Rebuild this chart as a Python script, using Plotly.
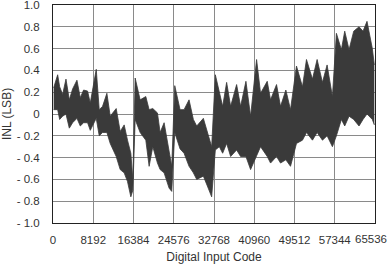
import plotly.graph_objects as go

# Envelope of the INL trace (code, upper, lower)
codes = [135, 948, 1354, 1963, 2640, 3317, 3994, 4874, 5551, 6228, 7041, 7582,
         8801, 9410, 10087, 10967, 11644, 12863, 13675, 14488, 15165, 15842, 16248,
         16722, 17738, 18889, 19566, 20311, 21259, 21800, 22613, 23628, 24170,
         24779, 25862, 26675, 27690, 28570, 29248, 30602, 31414, 32294,
         33039, 33851, 34528, 35340, 36153, 37372, 38184, 39267, 40215,
         41434, 42246, 43600, 44277, 45496, 46308, 47391, 48339,
         49558, 50776, 51589, 52807, 53755, 54838, 55786, 56869,
         57681, 58696, 59374, 60254, 61202, 62285, 63097, 63910, 64993, 65400]
inl_upper = [0.24, 0.36, 0.25, 0.18, 0.32, 0.13, 0.23, 0.31, 0.15, 0.22, 0.21, 0.10,
             0.41, 0.04, 0.07, 0.19, -0.02, 0.05, -0.16, -0.10, -0.24, -0.36, -0.60,
             0.33, 0.13, 0.16, 0.04, 0.05, 0.01, -0.17, -0.08, -0.36, -0.48,
             0.26, 0.04, 0.04, 0.13, -0.05, -0.11, -0.04, -0.17, -0.30,
             0.36, 0.19, 0.07, 0.29, 0.07, 0.27, 0.07, 0.30, -0.02,
             0.50, 0.19, 0.30, 0.13, 0.27, 0.07, 0.22, 0.04,
             0.44, 0.25, 0.50, 0.32, 0.50, 0.29, 0.45, 0.16,
             0.74, 0.59, 0.76, 0.59, 0.76, 0.80, 0.76, 0.85, 0.60, 0.45]
inl_lower = [0.04, 0.04, -0.05, -0.02, 0.00, -0.13, -0.08, -0.04, -0.11, -0.08, -0.08, -0.15,
             -0.04, -0.20, -0.17, -0.17, -0.27, -0.39, -0.51, -0.54, -0.62, -0.76, -0.70,
             -0.05, -0.17, -0.24, -0.48, -0.30, -0.45, -0.51, -0.54, -0.68, -0.71,
             -0.17, -0.32, -0.36, -0.48, -0.54, -0.60, -0.57, -0.66, -0.76,
             -0.33, -0.30, -0.36, -0.27, -0.39, -0.33, -0.39, -0.39, -0.51,
             -0.39, -0.30, -0.39, -0.45, -0.39, -0.45, -0.42, -0.48,
             -0.27, -0.24, -0.17, -0.24, -0.17, -0.24, -0.20, -0.30,
             -0.20, -0.05, -0.11, -0.02, -0.05, -0.11, -0.05, 0.00, -0.05, -0.10]

x_tickvals = [0, 8192, 16384, 24576, 32768, 40960, 49152, 57344, 65536]
x_ticktext = ["0", "8192", "16384", "24576", "32768", "40960", "49512", "57344", "65536"]
y_tickvals = [1.0, 0.8, 0.6, 0.4, 0.2, 0, -0.2, -0.4, -0.6, -0.8, -1.0]
y_ticktext = ["1.0", "0.8", "0.6", "0.4", "0.2", "0", "- 0.2", "- 0.4", "- 0.6", "- 0.8", "- 1.0"]

fig = go.Figure()
fig.add_trace(go.Scatter(x=codes, y=inl_lower, mode="lines",
                         line=dict(color="#3a3a3a", width=0.8), showlegend=False))
fig.add_trace(go.Scatter(x=codes, y=inl_upper, mode="lines", fill="tonexty",
                         fillcolor="#3a3a3a",
                         line=dict(color="#3a3a3a", width=0.8), showlegend=False))

font = dict(family="Liberation Sans, Arial, sans-serif", size=12, color="#333333")
tick_font = dict(family="Liberation Sans, Arial, sans-serif", size=11.5, color="#333333")

# the last x tick label sits flush with the right edge (as in the reference)
axis_ticktext = x_ticktext[:-1] + [""]
fig.add_annotation(x=x_tickvals[-1], xref="x", y=0, yref="paper",
                   text=x_ticktext[-1], showarrow=False, font=tick_font,
                   xanchor="right", yanchor="middle", xshift=14, yshift=-16)

fig.update_layout(
    width=390, height=264,
    margin=dict(l=53, r=15, t=5, b=41, autoexpand=False),
    paper_bgcolor="white", plot_bgcolor="white",
    font=font,
    xaxis=dict(range=[0, 65536], tickvals=x_tickvals, ticktext=axis_ticktext,
               tickfont=tick_font,
               showgrid=True, gridcolor="#8a8a8a", gridwidth=1,
               showline=True, linecolor="#222222", linewidth=1, mirror=True,
               zeroline=False, ticks="", ticklabelstandoff=6,
               ticklabeloverflow="allow", automargin=False,
               title=dict(text="Digital Input Code", standoff=7, font=font)),
    yaxis=dict(range=[-1.0, 1.0], tickvals=y_tickvals, ticktext=y_ticktext,
               tickfont=tick_font,
               showgrid=True, gridcolor="#8a8a8a", gridwidth=1,
               showline=True, linecolor="#222222", linewidth=1, mirror=True,
               zeroline=False, ticks="", ticklabelstandoff=10,
               ticklabeloverflow="allow", automargin=False,
               title=dict(text="INL (LSB)", standoff=6, font=font)),
)

fig.write_html("out.html")
